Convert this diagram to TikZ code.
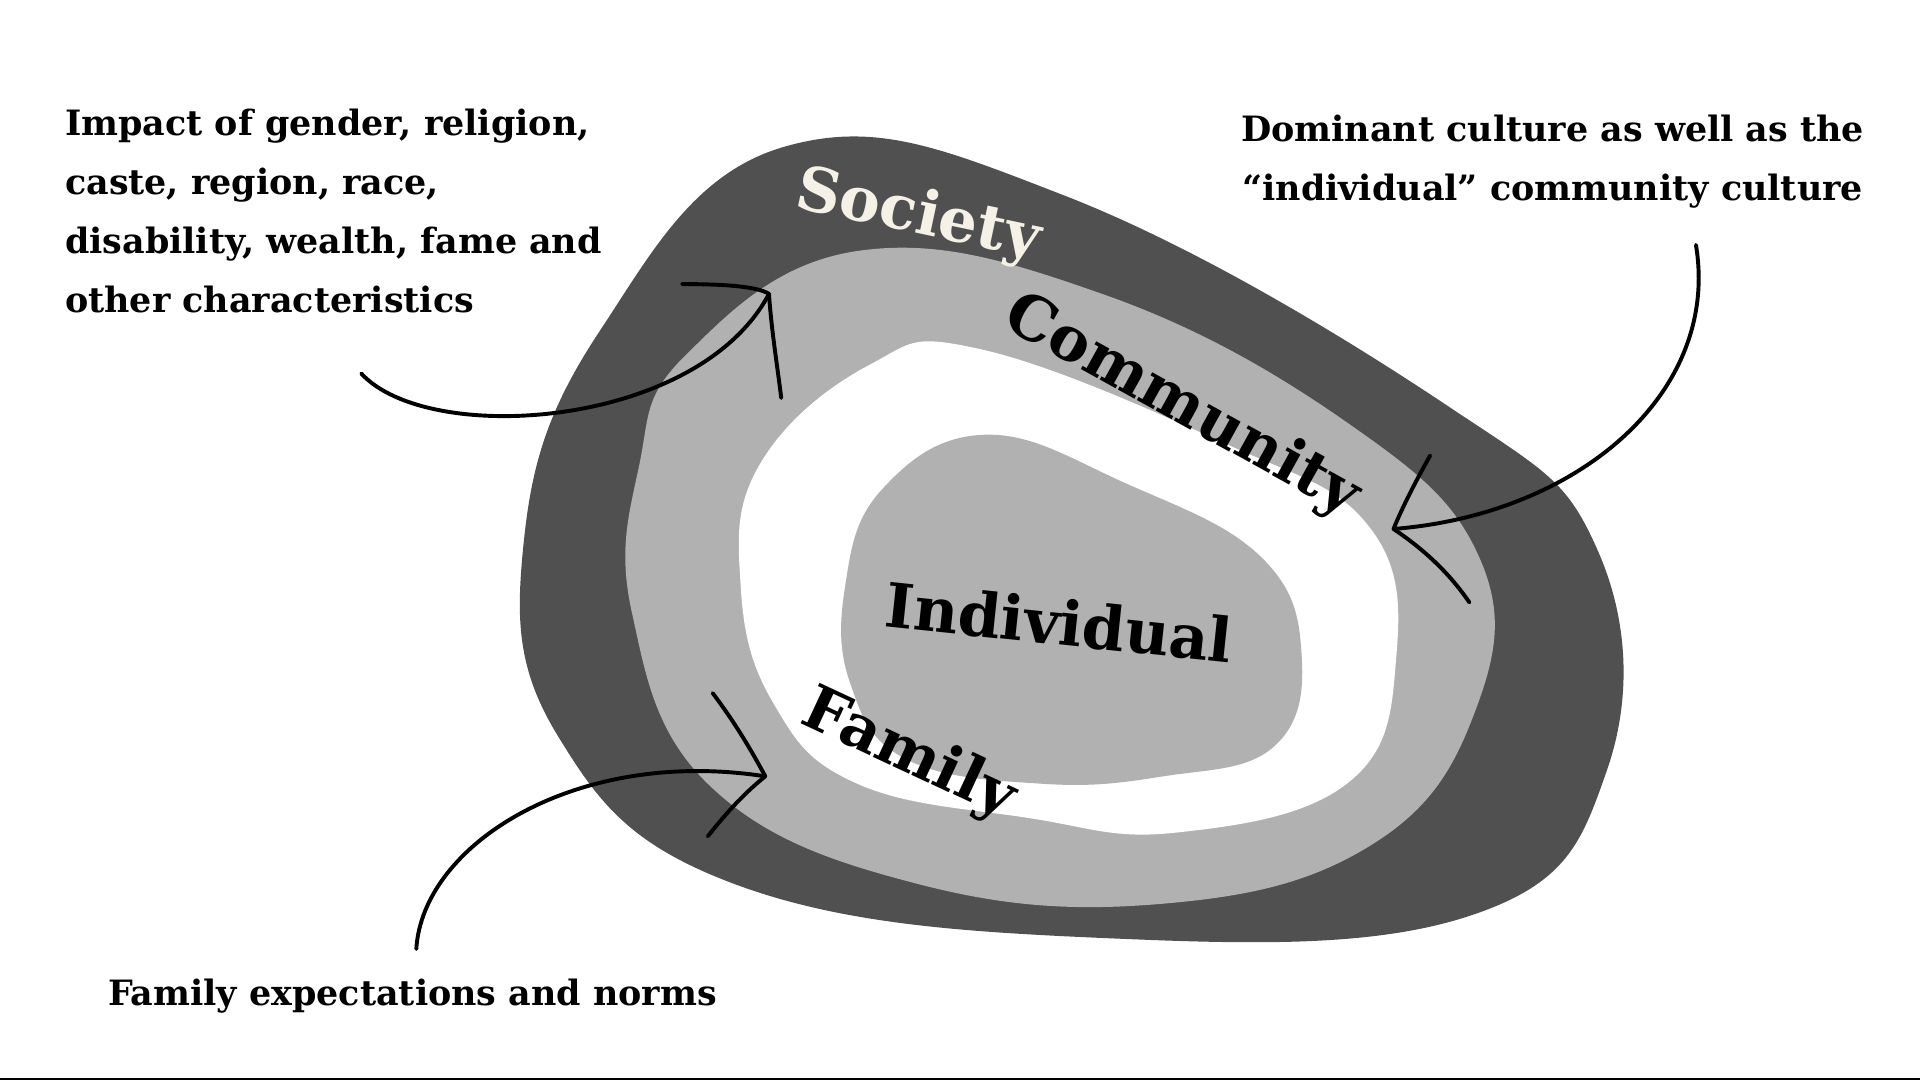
\documentclass[tikz,border=0pt]{standalone}
\usepackage{fontspec}
\setmainfont{DejaVu Serif}
\definecolor{dark}{HTML}{505050}
\definecolor{mid}{HTML}{B1B1B1}
\definecolor{cream}{HTML}{F6F1E6}
\begin{document}
\begin{tikzpicture}[x=1pt,y=-1pt,
  lbl/.style={font=\fontsize{28.5}{48}\selectfont\bfseries,align=left,anchor=north west,inner sep=0},
  big/.style={font=\fontsize{50}{54}\selectfont\bfseries,inner sep=0},
  arr/.style={line width=3.2pt,line cap=round,line join=round}]
\useasboundingbox (0,0) rectangle (1568,883);
\fill[white] (0,0) rectangle (1568,883);
\draw[line width=2pt] (0,881) -- (1568,881);
\fill[dark] plot[smooth cycle,tension=0.7] coordinates {(640,120) (870,160) (1180,330) (1305,450) (1312,630) (1200,748) (900,766) (600,722) (455,600) (428,440) (490,270)};
\fill[mid] plot[smooth cycle,tension=0.7] coordinates {(560,290) (700,205) (900,240) (1100,345) (1208,455) (1205,580) (1120,690) (950,738) (750,722) (580,642) (516,500) (522,380)};
\fill[white] plot[smooth cycle,tension=0.7] coordinates {(620,380) (710,298) (800,285) (1000,362) (1118,430) (1140,540) (1100,640) (960,680) (840,668) (700,640) (632,575) (605,480)};
\fill[mid] plot[smooth cycle,tension=0.7] coordinates {(720,400) (805,355) (920,395) (1030,455) (1063,535) (1040,610) (950,634) (850,640) (740,620) (695,560) (690,480)};
\node[big,text=cream,rotate=-12] (soc) at (750,177) {Society};
\node[big,rotate=-29] (com) at (965,332) {Community};
\node[big,rotate=-6] (ind) at (865,508) {Individual};
\node[big,rotate=-25] (fam) at (742,617) {Family};
\node[lbl] (t1) at (53,89) {Impact of gender, religion,\\caste, region, race,\\disability, wealth, fame and\\other characteristics};
\node[lbl,align=center,anchor=north] (t2) at (1268,94) {Dominant culture as well as the\\“individual” community culture};
\node[lbl,anchor=north west] (t3) at (88,799) {Family expectations and norms};
\coordinate (a1s) at (295,305); \coordinate (a1e) at (628,240);
\coordinate (a2s) at (1385,200); \coordinate (a2e) at (1138,432);
\coordinate (a3s) at (340,775); \coordinate (a3e) at (625,634);
\draw[arr] (a1s) .. controls (350,365) and (570,350) .. (a1e);
\draw[arr] (557,232) .. controls (600,232) and (620,235) .. (a1e) .. controls (630,270) and (635,300) .. (638,325);
\draw[arr] (a2s) .. controls (1405,320) and (1290,420) .. (a2e);
\draw[arr] (1168,372) .. controls (1155,395) and (1145,415) .. (a2e) .. controls (1165,450) and (1185,470) .. (1200,492);
\draw[arr] (a3s) .. controls (345,690) and (470,610) .. (a3e);
\draw[arr] (582,566) .. controls (600,590) and (612,610) .. (a3e) .. controls (605,650) and (590,668) .. (578,683);
\end{tikzpicture}
\end{document}
